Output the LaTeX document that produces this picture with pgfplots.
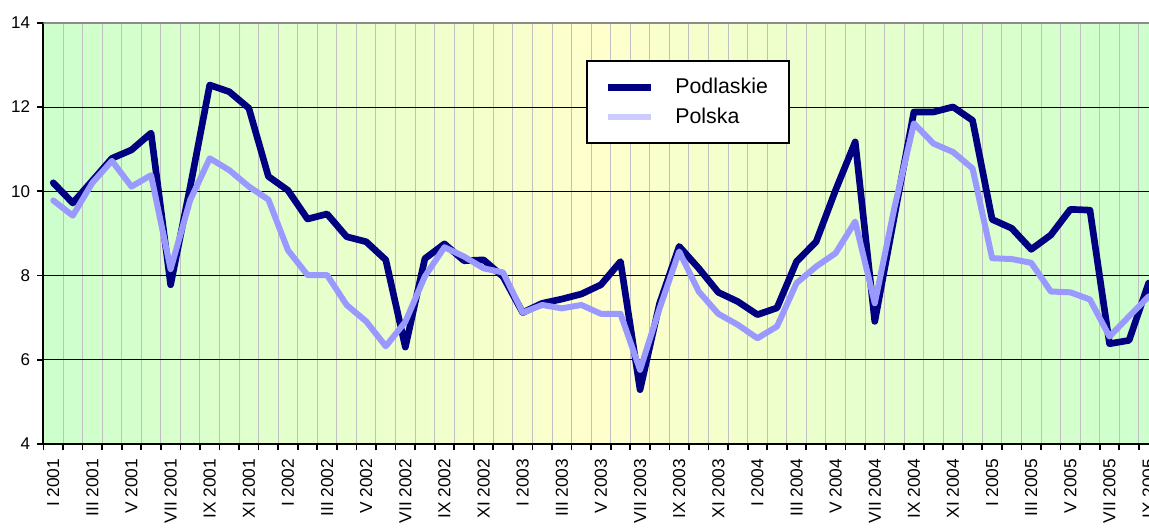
\documentclass[border=0pt]{standalone}
\usepackage{fontspec}
\setmainfont{Liberation Sans}
\usepackage{pgfplots}
\usepackage{pgfplotstable}
\pgfplotsset{compat=1.18}
\definecolor{podl}{RGB}{0,0,128}
\definecolor{pols}{RGB}{153,153,255}
\definecolor{polsleg}{RGB}{204,204,255}
\definecolor{vgrid}{RGB}{192,192,192}
\definecolor{topgray}{RGB}{140,140,140}
\pgfdeclarehorizontalshading{bgshade}{100bp}{rgb(0bp)=(0.8,1,0.8); rgb(25bp)=(0.8,1,0.8); rgb(50bp)=(1,1,0.8); rgb(75bp)=(0.8,1,0.8); rgb(100bp)=(0.8,1,0.8)}

\pgfplotstableread{
i podl pols
0 10.20 9.78
1 9.72 9.42
2 10.25 10.20
3 10.78 10.72
4 10.98 10.11
5 11.38 10.38
6 7.78 8.15
7 10.10 9.79
8 12.52 10.78
9 12.36 10.50
10 11.97 10.11
11 10.35 9.80
12 10.02 8.60
13 9.34 8.01
14 9.46 8.01
15 8.92 7.30
16 8.80 6.91
17 8.37 6.32
18 6.30 6.90
19 8.40 7.98
20 8.75 8.67
21 8.35 8.45
22 8.37 8.17
23 7.97 8.07
24 7.12 7.12
25 7.34 7.30
26 7.44 7.22
27 7.56 7.30
28 7.78 7.09
29 8.33 7.09
30 5.29 5.76
31 7.34 7.22
32 8.69 8.57
33 8.17 7.62
34 7.60 7.09
35 7.38 6.83
36 7.07 6.51
37 7.23 6.79
38 8.33 7.82
39 8.80 8.21
40 10.03 8.53
41 11.17 9.28
42 6.91 7.34
43 9.40 9.60
44 11.88 11.61
45 11.88 11.13
46 12.00 10.93
47 11.68 10.54
48 9.33 8.41
49 9.12 8.39
50 8.62 8.30
51 8.96 7.62
52 9.57 7.60
53 9.55 7.43
54 6.38 6.55
55 6.46 7.03
56 7.82 7.50
}\datatable

\begin{document}
\begin{tikzpicture}[trim axis right]
\begin{axis}[
  at={(0pt,0pt)}, anchor=south west,
  scale only axis,
  width=829.1pt, height=316pt,
  xmin=-0.5, xmax=56.02, ymin=4, ymax=14,
  axis lines*=left,
  axis line style={black, line width=1.5pt, -},
  axis background/.style={shading=bgshade},
  xtick={-0.5,0.5,...,55.5},
  xticklabel={\mbox{}},
  xmajorgrids,
  x grid style={vgrid, line width=0.75pt},
  extra x ticks={0,2,...,56},
  extra x tick labels={I 2001,III 2001,V 2001,VII 2001,IX 2001,XI 2001,I 2002,III 2002,V 2002,VII 2002,IX 2002,XI 2002,I 2003,III 2003,V 2003,VII 2003,IX 2003,XI 2003,I 2004,III 2004,V 2004,VII 2004,IX 2004,XI 2004,I 2005,III 2005,V 2005,VII 2005,IX 2005},
  extra x tick style={grid=none, major tick length=0pt},
  x tick label style={yshift=-7.5pt, rotate=90, anchor=east, font=\fontsize{13}{15}\selectfont},
  ytick={4,6,...,14},
  ymajorgrids,
  y grid style={black, line width=0.6pt},
  y tick label style={font=\fontsize{12.75}{14}\selectfont, xshift=-2pt},
  /pgf/number format/assume math mode=true,
  tick align=outside,
  major tick length=4.5pt,
  tick style={black, line width=1.3pt},
  legend style={at={(0.4905,0.911)}, anchor=north west, draw=black, line width=1.5pt, fill=white,
    font=\fontsize{16}{19}\selectfont, inner xsep=13.5pt, inner ysep=11pt, row sep=5pt, column sep=14pt},
  legend cell align=left,
  legend image code/.code={\draw[#1] (0pt,0pt) -- (32pt,0pt);},
]
\addlegendimage{podl, line width=5pt}
\addlegendentry{Podlaskie}
\addlegendimage{polsleg, line width=4.5pt}
\addlegendentry{Polska}
\addplot[podl, line width=5pt, line join=round, line cap=round, forget plot] table[x=i, y=podl] {\datatable};
\addplot[pols, line width=4.5pt, line join=round, line cap=round, forget plot] table[x=i, y=pols] {\datatable};
\draw[topgray, line width=1.5pt] (rel axis cs:0,1) -- (rel axis cs:1,1);
\end{axis}
\path (current axis.south west) +(-32.6pt,-60.75pt);
\path (current axis.north west) +(0pt,17pt);
\end{tikzpicture}
\end{document}
